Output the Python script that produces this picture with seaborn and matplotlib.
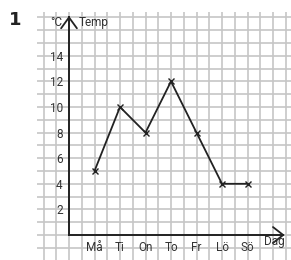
import matplotlib
matplotlib.use("Agg")
import matplotlib.pyplot as plt
import seaborn as sns
import pandas as pd

# Data
days = ["Må", "Ti", "On", "To", "Fr", "Lö", "Sö"]
temps = [5, 10, 8, 12, 8, 4, 4]
y_labels = [2, 4, 6, 8, 10, 12, 14]

# one day = two grid squares
day_pos = [2 * (i + 1) for i in range(len(days))]
df = pd.DataFrame({"pos": day_pos, "temp": temps})

sns.set_style("white")
plt.rcParams["font.family"] = ["Roboto", "DejaVu Sans"]

fig = plt.figure(figsize=(2.91, 2.60), dpi=100)
ax = fig.add_axes([0, 0, 1, 1])
ax.set_xlim(-69 / 12.75, (291 - 69) / 12.75)
ax.set_ylim(-25 / 12.8, 235 / 12.8)

# Graph paper
grid_col = "#c6c6c6"
for gx in range(-2, 18):
    ax.vlines(gx, -3, 17.4, color=grid_col, lw=1.2, zorder=0)
for gy in range(-2, 18):
    ax.hlines(gy, -2.5, 19, color=grid_col, lw=1.2, zorder=0)

# Axes at origin
for s in ["top", "right"]:
    ax.spines[s].set_visible(False)
ax.spines["left"].set_position(("data", 0))
ax.spines["bottom"].set_position(("data", 0))
ax.spines["left"].set_bounds(0, 17.0)
ax.spines["bottom"].set_bounds(0, 16.8)
for s in ["left", "bottom"]:
    ax.spines[s].set_color("#222222")
    ax.spines[s].set_linewidth(1.4)
    ax.spines[s].set_zorder(3)

ax.set_yticks(y_labels)
ax.set_yticklabels([str(v) for v in y_labels])
ax.set_yticks(range(1, 17), minor=True)
ax.set_xticks(day_pos)
ax.set_xticklabels(days)
ax.tick_params(axis="both", which="both", direction="inout", length=6,
               width=1.2, color="#222222", labelsize=8.5, labelcolor="#333333")
ax.tick_params(axis="y", pad=1.5)
ax.tick_params(axis="x", pad=1)

# Arrow heads
ax.plot([-0.62, 0, 0.62], [16.15, 17.0, 16.15], color="#222222", lw=1.3,
        solid_joinstyle="miter", zorder=3)
ax.plot([16.0, 16.8, 16.0], [0.62, 0, -0.62], color="#222222", lw=1.3,
        solid_joinstyle="miter", zorder=3)

# Temperature line
sns.lineplot(data=df, x="pos", y="temp", ax=ax, color="#222222", lw=1.3,
             marker="x", markersize=5, markeredgewidth=1.0,
             markeredgecolor="#222222", zorder=4)
ax.set_xlabel("")
ax.set_ylabel("")

# Labels
ax.text(-0.55, 16.6, "°C", ha="right", va="center", fontsize=8.5, color="#333333")
ax.text(0.75, 16.6, "Temp", ha="left", va="center", fontsize=8.5, color="#333333")
ax.text(16.1, -0.5, "Dag", ha="center", va="center", fontsize=8.5, color="#333333")
fig.text(15 / 291, 1 - 20 / 260, "1", ha="center", va="center",
         fontsize=13, fontweight="bold", family="DejaVu Sans", color="#222222")

fig.savefig("out.png", dpi=100)
